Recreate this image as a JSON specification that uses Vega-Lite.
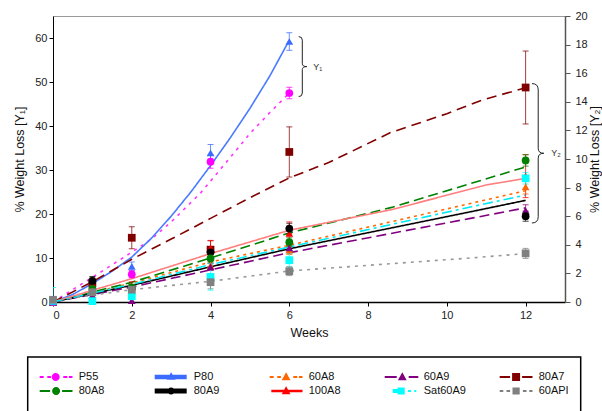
{
  "$schema": "https://vega.github.io/schema/vega-lite/v6.json",
  "width": 512,
  "height": 286,
  "autosize": {"type": "none"},
  "padding": {"left": 53, "top": 16, "right": 37, "bottom": 109},
  "background": "white",
  "config": {
    "font": "Liberation Sans",
    "view": {"stroke": "#999", "strokeWidth": 1},
    "axis": {"grid": false, "labelFont": "Liberation Sans", "titleFont": "Liberation Sans", "labelFontSize": 11, "titleFontSize": 12.5, "titleFontWeight": "normal", "labelColor": "#222", "titleColor": "#111", "domainColor": "#000", "tickColor": "#000", "tickSize": 4, "labelOverlap": false}
  },
  "datasets": {
    "early": [
      {"s": "80A7", "w": 0, "v": 0, "e": 0.3}, {"s": "80A7", "w": 1, "v": 4.3, "e": 1.2}, {"s": "80A7", "w": 2, "v": 14.6, "e": 2.5}, {"s": "80A7", "w": 4, "v": 11.9, "e": 2.0}, {"s": "80A7", "w": 6, "v": 34.1, "e": 5.7},
      {"s": "100A8", "w": 0, "v": 0, "e": 0.3}, {"s": "100A8", "w": 1, "v": 4.0, "e": 1.0}, {"s": "100A8", "w": 2, "v": 3.6, "e": 1.0}, {"s": "100A8", "w": 4, "v": 12.2, "e": 1.8}, {"s": "100A8", "w": 6, "v": 15.6, "e": 2.6},
      {"s": "80A9", "w": 0, "v": 0, "e": 0.3}, {"s": "80A9", "w": 1, "v": 4.8, "e": 1.0}, {"s": "80A9", "w": 2, "v": 3.0, "e": 0.6}, {"s": "80A9", "w": 4, "v": 11.3, "e": 1.0}, {"s": "80A9", "w": 6, "v": 16.7, "e": 1.2},
      {"s": "80A8", "w": 0, "v": 0, "e": 0.3}, {"s": "80A8", "w": 1, "v": 3.0, "e": 0.6}, {"s": "80A8", "w": 2, "v": 3.3, "e": 0.6}, {"s": "80A8", "w": 4, "v": 9.9, "e": 1.0}, {"s": "80A8", "w": 6, "v": 13.6, "e": 1.0},
      {"s": "60A8", "w": 0, "v": 0, "e": 0.3}, {"s": "60A8", "w": 1, "v": 2.5, "e": 0.5}, {"s": "60A8", "w": 2, "v": 2.4, "e": 0.6}, {"s": "60A8", "w": 4, "v": 8.3, "e": 1.0}, {"s": "60A8", "w": 6, "v": 11.8, "e": 1.0},
      {"s": "60A9", "w": 0, "v": 0, "e": 0.3}, {"s": "60A9", "w": 1, "v": 1.5, "e": 0.5}, {"s": "60A9", "w": 2, "v": 0.3, "e": 0.5}, {"s": "60A9", "w": 4, "v": 8.0, "e": 0.8}, {"s": "60A9", "w": 6, "v": 12.3, "e": 1.0},
      {"s": "P55", "w": 0, "v": 0, "e": 0.3}, {"s": "P55", "w": 2, "v": 6.3, "e": 0.8}, {"s": "P55", "w": 4, "v": 31.9, "e": 1.5}, {"s": "P55", "w": 6, "v": 47.5, "e": 1.3},
      {"s": "P80", "w": 0, "v": 0, "e": 0.3}, {"s": "P80", "w": 2, "v": 8.1, "e": 1.0}, {"s": "P80", "w": 4, "v": 33.9, "e": 1.9}, {"s": "P80", "w": 6, "v": 59.2, "e": 2.0},
      {"s": "Sat60A9", "w": 0, "v": 0.3, "e": 3.0}, {"s": "Sat60A9", "w": 1, "v": 0.2, "e": 0.6}, {"s": "Sat60A9", "w": 2, "v": 1.3, "e": 2.5}, {"s": "Sat60A9", "w": 4, "v": 5.7, "e": 3.0}, {"s": "Sat60A9", "w": 6, "v": 9.5, "e": 1.5},
      {"s": "60API", "w": 0, "v": 0.5, "e": 0.5}, {"s": "60API", "w": 1, "v": 2.2, "e": 0.6}, {"s": "60API", "w": 2, "v": 2.8, "e": 1.0}, {"s": "60API", "w": 4, "v": 4.5, "e": 1.5}, {"s": "60API", "w": 6, "v": 7.0, "e": 1.0}
    ],
    "late": [
      {"s": "80A7", "w": 12, "v": 15.0, "e": 2.55},
      {"s": "100A8", "w": 12, "v": 8.8, "e": 1.5},
      {"s": "80A8", "w": 12, "v": 9.9, "e": 0.4},
      {"s": "60A8", "w": 12, "v": 8.05, "e": 0.5},
      {"s": "Sat60A9", "w": 12, "v": 8.65, "e": 0.4},
      {"s": "60A9", "w": 12, "v": 6.4, "e": 0.4},
      {"s": "80A9", "w": 12, "v": 6.0, "e": 0.35},
      {"s": "60API", "w": 12, "v": 3.4, "e": 0.35}
    ],
    "lines": [
      {"s": "P55", "w": 0, "v": 0}, {"s": "P55", "w": 1, "v": 5.6}, {"s": "P55", "w": 2, "v": 11.3}, {"s": "P55", "w": 2.5, "v": 14.3}, {"s": "P55", "w": 3, "v": 18.2}, {"s": "P55", "w": 3.74, "v": 24.7}, {"s": "P55", "w": 4.58, "v": 33.7}, {"s": "P55", "w": 5, "v": 38.3}, {"s": "P55", "w": 5.5, "v": 43}, {"s": "P55", "w": 6, "v": 47.5},
      {"s": "P80", "w": 0, "v": 0}, {"s": "P80", "w": 0.5, "v": 1.7}, {"s": "P80", "w": 1, "v": 4.2}, {"s": "P80", "w": 1.5, "v": 7}, {"s": "P80", "w": 2, "v": 10.2}, {"s": "P80", "w": 2.5, "v": 14.5}, {"s": "P80", "w": 3, "v": 19.5}, {"s": "P80", "w": 3.5, "v": 25}, {"s": "P80", "w": 4, "v": 31}, {"s": "P80", "w": 4.5, "v": 37.3}, {"s": "P80", "w": 5, "v": 44}, {"s": "P80", "w": 5.5, "v": 51.3}, {"s": "P80", "w": 6, "v": 59.5},
      {"s": "60A8", "w": 0, "v": 0}, {"s": "60A8", "w": 2, "v": 4.3}, {"s": "60A8", "w": 4, "v": 9.1}, {"s": "60A8", "w": 6, "v": 12.9}, {"s": "60A8", "w": 10.6, "v": 22.4}, {"s": "60A8", "w": 12, "v": 25.3},
      {"s": "60A9", "w": 0, "v": 0}, {"s": "60A9", "w": 2, "v": 3.4}, {"s": "60A9", "w": 4, "v": 7.3}, {"s": "60A9", "w": 6, "v": 11.2}, {"s": "60A9", "w": 10.6, "v": 19}, {"s": "60A9", "w": 12, "v": 21.4},
      {"s": "80A7", "w": 0, "v": 0}, {"s": "80A7", "w": 1, "v": 4.6}, {"s": "80A7", "w": 2, "v": 9.7}, {"s": "80A7", "w": 3, "v": 14.3}, {"s": "80A7", "w": 4, "v": 19}, {"s": "80A7", "w": 5, "v": 23.7}, {"s": "80A7", "w": 6, "v": 28.2}, {"s": "80A7", "w": 7, "v": 31.7}, {"s": "80A7", "w": 8.57, "v": 38.5}, {"s": "80A7", "w": 10, "v": 42.8}, {"s": "80A7", "w": 10.9, "v": 45.9}, {"s": "80A7", "w": 12, "v": 48.7},
      {"s": "80A8", "w": 0, "v": 0}, {"s": "80A8", "w": 2, "v": 4.5}, {"s": "80A8", "w": 4, "v": 10}, {"s": "80A8", "w": 6, "v": 15.7}, {"s": "80A8", "w": 8.6, "v": 21.5}, {"s": "80A8", "w": 12, "v": 30.7},
      {"s": "80A9", "w": 0, "v": 0}, {"s": "80A9", "w": 2, "v": 3.8}, {"s": "80A9", "w": 4, "v": 8}, {"s": "80A9", "w": 6, "v": 12.1}, {"s": "80A9", "w": 10.6, "v": 20.5}, {"s": "80A9", "w": 12, "v": 23.1},
      {"s": "100A8", "w": 0, "v": 0}, {"s": "100A8", "w": 2, "v": 5.3}, {"s": "100A8", "w": 4, "v": 11}, {"s": "100A8", "w": 6, "v": 16.3}, {"s": "100A8", "w": 8.6, "v": 21}, {"s": "100A8", "w": 11, "v": 26.6}, {"s": "100A8", "w": 12, "v": 28.1},
      {"s": "Sat60A9", "w": 0, "v": 0}, {"s": "Sat60A9", "w": 2, "v": 4}, {"s": "Sat60A9", "w": 4, "v": 8.5}, {"s": "Sat60A9", "w": 6, "v": 12.5}, {"s": "Sat60A9", "w": 10.6, "v": 21.6}, {"s": "Sat60A9", "w": 12, "v": 24.3},
      {"s": "60API", "w": 0, "v": 0.3}, {"s": "60API", "w": 2, "v": 2.8}, {"s": "60API", "w": 4, "v": 4.7}, {"s": "60API", "w": 6, "v": 7.05}, {"s": "60API", "w": 10.6, "v": 10}, {"s": "60API", "w": 12, "v": 11}
    ],
    "annot": [
      {"label": "Y₁", "bx": 6.33, "by": 53.5, "tx": 6.72, "ty": 53.5},
      {"label": "Y₂", "bx": 12.32, "by": 33.8, "tx": 12.77, "ty": 33.8}
    ]
  },
  "layer": [
    {
      "layer": [
        {
          "data": {"name": "lines"},
          "mark": {"type": "line", "strokeWidth": 1.6},
          "encoding": {
            "x": {"field": "w", "type": "quantitative", "title": "Weeks", "scale": {"domain": [0, 13], "nice": false}, "axis": {"values": [0, 2, 4, 6, 8, 10, 12], "domainWidth": 1.5, "labelPadding": 3, "titlePadding": 6}},
            "y": {"field": "v", "type": "quantitative", "title": "% Weight Loss [Y₁]", "scale": {"domain": [0, 65], "nice": false}, "axis": {"orient": "left", "values": [0, 10, 20, 30, 40, 50, 60], "labelPadding": 2, "titlePadding": 8, "domainWidth": 1}},
            "stroke": {"field": "s", "type": "nominal", "legend": null, "scale": {"domain": ["100A8", "60A8", "60A9", "60API", "80A7", "80A8", "80A9", "P55", "P80", "Sat60A9"], "range": ["#ff7f7f", "#ff6a00", "#800080", "#999999", "#800000", "#008000", "#000000", "#ff33ff", "#4a7bff", "#00e8f0"]}},
            "strokeDash": {"field": "s", "type": "nominal", "legend": null, "scale": {"domain": ["100A8", "60A8", "60A9", "60API", "80A7", "80A8", "80A9", "P55", "P80", "Sat60A9"], "range": [[1, 0], [3, 4], [10, 5], [3, 5], [10, 6], [10, 5], [1, 0], [3, 5], [1, 0], [10, 4, 3, 4]]}}
          }
        },
        {
          "data": {"name": "early"},
          "mark": {"type": "errorbar", "ticks": {"size": 6, "thickness": 1}, "clip": true},
          "encoding": {
            "x": {"field": "w", "type": "quantitative", "title": "Weeks"},
            "y": {"field": "v", "type": "quantitative", "title": "% Weight Loss [Y₁]"},
            "yError": {"field": "e"},
            "color": {"field": "s", "type": "nominal"},
            "opacity": {"value": 0.75}
          }
        },
        {
          "data": {"name": "early"},
          "mark": {"type": "point", "filled": true, "size": 60, "opacity": 1},
          "encoding": {
            "x": {"field": "w", "type": "quantitative", "title": "Weeks"},
            "y": {"field": "v", "type": "quantitative", "title": "% Weight Loss [Y₁]"},
            "shape": {"field": "s", "type": "nominal", "legend": null, "scale": {"domain": ["100A8", "60A8", "60A9", "60API", "80A7", "80A8", "80A9", "P55", "P80", "Sat60A9"], "range": ["triangle-up", "triangle-up", "triangle-up", "square", "square", "circle", "circle", "circle", "triangle-up", "square"]}},
            "color": {
              "field": "s", "type": "nominal",
              "scale": {"domain": ["P55", "P80", "60A8", "60A9", "80A7", "80A8", "80A9", "100A8", "Sat60A9", "60API"], "range": ["#ff00ff", "#3b6cff", "#ff6600", "#800080", "#800000", "#008000", "#000000", "#ff0000", "#00ffff", "#808080"]},
              "legend": {
                "title": " ", "titleOrient": "bottom", "titleFontSize": 12, "titlePadding": 0,
                "orient": "none", "legendX": -25.3, "legendY": 341,
                "direction": "horizontal", "columns": 5, "gridAlign": "all",
                "symbolSize": 256, "symbolStrokeWidth": 0, "symbolOpacity": 1,
                "labelOffset": 23, "columnPadding": 33, "rowPadding": 1,
                "padding": 12, "strokeColor": "#000", "fillColor": "white",
                "labelFont": "Liberation Sans", "labelFontSize": 11, "labelColor": "#111",
                "encode": {
                  "legend": {"update": {"strokeWidth": {"value": 1.5}}},
                  "symbols": {"update": {
                  "size": {"value": 256},
                  "opacity": {"value": 1},
                  "strokeWidth": {"value": 0},
                  "shape": {"signal": "datum.value==='P55'?'M-1,-0.13H-0.5V0.13H-1ZM-0.05,-0.13H0.4V0.13H-0.05ZM1.5,0A0.5,0.5 0 1,1 0.5,0A0.5,0.5 0 1,1 1.5,0ZM1.95,-0.13H2.45V0.13H1.95ZM2.65,-0.13H3.1V0.13H2.65Z':datum.value==='P80'?'M-1,-0.28H3V0.28H-1ZM1.05,-0.6L1.6,0.35L0.5,0.35Z':datum.value==='60A8'?'M-1,-0.13H-0.5V0.13H-1ZM-0.05,-0.13H0.4V0.13H-0.05ZM1.05,-0.6L1.6,0.4L0.5,0.4ZM1.95,-0.13H2.45V0.13H1.95ZM2.65,-0.13H3.1V0.13H2.65Z':datum.value==='60A9'?'M-1,-0.13H0.5V0.13H-1ZM1.2,-0.6L1.75,0.4L0.65,0.4ZM2,-0.13H3.2V0.13H2Z':datum.value==='80A7'?'M-1,-0.13H0.3V0.13H-1ZM0.55,-0.5H1.55V0.5H0.55ZM1.8,-0.13H3.1V0.13H1.8Z':datum.value==='80A8'?'M-1,-0.13H0.3V0.13H-1ZM1.55,0A0.5,0.5 0 1,1 0.55,0A0.5,0.5 0 1,1 1.55,0ZM1.8,-0.13H3.1V0.13H1.8Z':datum.value==='80A9'?'M-1,-0.3H3V0.3H-1ZM1.5,0A0.45,0.45 0 1,1 0.6,0A0.45,0.45 0 1,1 1.5,0Z':datum.value==='100A8'?'M-0.8,-0.15H3.1V0.15H-0.8ZM1.05,-0.6L1.6,0.4L0.5,0.4Z':datum.value==='Sat60A9'?'M0,-0.25H0.7V0.25H0ZM0.6,-0.45H1.5V0.45H0.6ZM1.9,-0.13H2.3V0.13H1.9ZM2.7,-0.13H2.95V0.13H2.7Z':'M-1,-0.13H-0.55V0.13H-1ZM-0.15,-0.13H0.3V0.13H-0.15ZM0.6,-0.45H1.5V0.45H0.6ZM1.9,-0.13H2.35V0.13H1.9ZM2.7,-0.13H3.1V0.13H2.7Z'"}
                }}}
              }
            }
          }
        },
        {
          "data": {"name": "annot"},
          "transform": [{"filter": "datum.label === 'Y₁'"}],
          "mark": {"type": "point", "filled": false, "shape": "M-0.12,-1Q0,-1 0,-0.88L0,-0.1Q0,0 0.15,0Q0,0 0,0.1L0,0.88Q0,1 -0.12,1", "size": 3600, "color": "#222", "strokeWidth": 1, "opacity": 1},
          "encoding": {
            "x": {"field": "bx", "type": "quantitative", "title": "Weeks"},
            "y": {"field": "by", "type": "quantitative", "title": "% Weight Loss [Y₁]"}
          }
        },
        {
          "data": {"name": "annot"},
          "transform": [{"filter": "datum.label === 'Y₂'"}],
          "mark": {"type": "point", "filled": false, "shape": "M-0.09,-1Q0,-1 0,-0.91L0,-0.07Q0,0 0.08,0Q0,0 0,0.07L0,0.91Q0,1 -0.09,1", "size": 19432, "color": "#222", "strokeWidth": 1, "opacity": 1},
          "encoding": {
            "x": {"field": "bx", "type": "quantitative", "title": "Weeks"},
            "y": {"field": "by", "type": "quantitative", "title": "% Weight Loss [Y₁]"}
          }
        },
        {
          "data": {"name": "annot"},
          "mark": {"type": "text", "fontSize": 9, "color": "#333", "align": "center", "baseline": "middle", "font": "Liberation Sans"},
          "encoding": {
            "x": {"field": "tx", "type": "quantitative", "title": "Weeks"},
            "y": {"field": "ty", "type": "quantitative", "title": "% Weight Loss [Y₁]"},
            "text": {"field": "label"}
          }
        }
      ]
    },
    {
      "layer": [
        {
          "data": {"name": "late"},
          "mark": {"type": "errorbar", "ticks": {"size": 6, "thickness": 1}},
          "encoding": {
            "x": {"field": "w", "type": "quantitative", "title": "Weeks"},
            "y": {"field": "v", "type": "quantitative", "title": "% Weight Loss [Y₂]", "scale": {"domain": [0, 20], "nice": false}, "axis": {"orient": "right", "values": [0, 2, 4, 6, 8, 10, 12, 14, 16, 18, 20], "labelOverlap": false, "labelBound": false, "titleAngle": 270, "titleBaseline": "top", "domainColor": "#555", "tickColor": "#555", "domainWidth": 1.5, "labelPadding": 5, "titlePadding": 1, "tickSize": 5}},
            "yError": {"field": "e"},
            "color": {"field": "s", "type": "nominal"},
            "opacity": {"value": 0.75}
          }
        },
        {
          "data": {"name": "late"},
          "mark": {"type": "point", "filled": true, "size": 60, "opacity": 1},
          "encoding": {
            "x": {"field": "w", "type": "quantitative", "title": "Weeks"},
            "y": {"field": "v", "type": "quantitative", "title": "% Weight Loss [Y₂]", "scale": {"domain": [0, 20], "nice": false}, "axis": {"orient": "right", "values": [0, 2, 4, 6, 8, 10, 12, 14, 16, 18, 20], "labelOverlap": false, "labelBound": false, "titleAngle": 270, "titleBaseline": "top", "domainColor": "#555", "tickColor": "#555", "domainWidth": 1.5, "labelPadding": 5, "titlePadding": 1, "tickSize": 5}},
            "shape": {"field": "s", "type": "nominal"},
            "color": {"field": "s", "type": "nominal"}
          }
        }
      ]
    }
  ],
  "resolve": {"scale": {"y": "independent"}}
}
